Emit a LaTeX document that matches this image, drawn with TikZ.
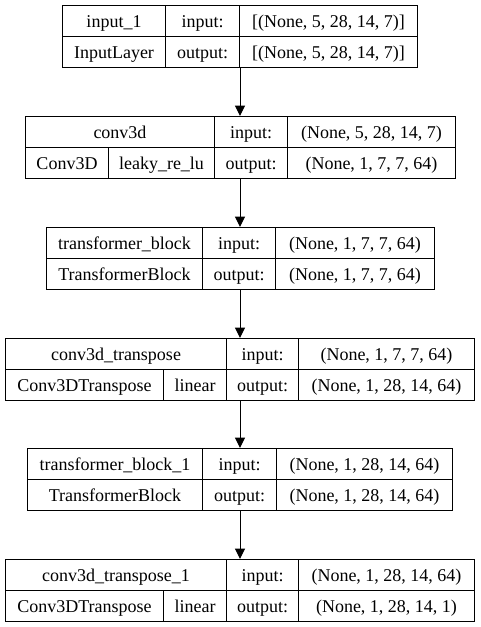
\documentclass[tikz,border=0pt]{standalone}
\usepackage{fontspec}
\setmainfont{Liberation Serif}
\usetikzlibrary{arrows.meta,positioning}

% one table cell: name, left x, right x, top y, text
\newcommand{\kcell}[5]{%
  \node[kcell, minimum width={#3pt-#2pt}] (#1) at (#2,#4) {#5};}

\tikzset{
  kcell/.style={draw=black, line width=1pt, anchor=north west,
    minimum height=31pt, inner sep=0pt, text height=16pt, text depth=4pt,
    font=\fontsize{18}{20}\selectfont},
  link/.style={draw=black, line width=1pt, -{Triangle[length=10.5pt,width=10pt]}}
}

\begin{document}
\begin{tikzpicture}[x=1pt, y=-1pt]
  \useasboundingbox (0,0) rectangle (480,627);

  % input_1
  \kcell{inA}{62}{165}{5}{input\_1}
  \kcell{inB}{165}{239}{5}{input:}
  \kcell{inC}{239}{417}{5}{[(None, 5, 28, 14, 7)]}
  \kcell{inD}{62}{165}{36}{InputLayer}
  \kcell{inE}{165}{239}{36}{output:}
  \kcell{inF}{239}{417}{36}{[(None, 5, 28, 14, 7)]}

  % conv3d
  \kcell{cvA}{25}{214}{116}{conv3d}
  \kcell{cvB}{214}{287}{116}{input:}
  \kcell{cvC}{287}{455}{116}{(None, 5, 28, 14, 7)}
  \kcell{cvD}{25}{108}{147}{Conv3D}
  \kcell{cvE}{108}{214}{147}{leaky\_re\_lu}
  \kcell{cvF}{214}{287}{147}{output:}
  \kcell{cvG}{287}{455}{147}{(None, 1, 7, 7, 64)}

  % transformer_block
  \kcell{tbA}{46}{202}{227}{transformer\_block}
  \kcell{tbB}{202}{275}{227}{input:}
  \kcell{tbC}{275}{434}{227}{(None, 1, 7, 7, 64)}
  \kcell{tbD}{46}{202}{258}{TransformerBlock}
  \kcell{tbE}{202}{275}{258}{output:}
  \kcell{tbF}{275}{434}{258}{(None, 1, 7, 7, 64)}

  % conv3d_transpose
  \kcell{ctA}{5}{226}{338}{conv3d\_transpose}
  \kcell{ctB}{226}{298}{338}{input:}
  \kcell{ctC}{298}{474}{338}{(None, 1, 7, 7, 64)}
  \kcell{ctD}{5}{163}{369}{Conv3DTranspose}
  \kcell{ctE}{163}{226}{369}{linear}
  \kcell{ctF}{226}{298}{369}{output:}
  \kcell{ctG}{298}{474}{369}{(None, 1, 28, 14, 64)}

  % transformer_block_1
  \kcell{tcA}{27}{202}{448}{transformer\_block\_1}
  \kcell{tcB}{202}{276}{448}{input:}
  \kcell{tcC}{276}{452}{448}{(None, 1, 28, 14, 64)}
  \kcell{tcD}{27}{202}{479}{TransformerBlock}
  \kcell{tcE}{202}{276}{479}{output:}
  \kcell{tcF}{276}{452}{479}{(None, 1, 28, 14, 64)}

  % conv3d_transpose_1
  \kcell{cuA}{5}{226}{559}{conv3d\_transpose\_1}
  \kcell{cuB}{226}{298}{559}{input:}
  \kcell{cuC}{298}{474}{559}{(None, 1, 28, 14, 64)}
  \kcell{cuD}{5}{163}{590}{Conv3DTranspose}
  \kcell{cuE}{163}{226}{590}{linear}
  \kcell{cuF}{226}{298}{590}{output:}
  \kcell{cuG}{298}{474}{590}{(None, 1, 28, 14, 1)}

  % arrow ends
  \coordinate (o1) at (240,67);  \coordinate (i2) at (240,116);
  \coordinate (o2) at (240,178); \coordinate (i3) at (240,227);
  \coordinate (o3) at (240,289); \coordinate (i4) at (240,338);
  \coordinate (o4) at (240,400); \coordinate (i5) at (240,448);
  \coordinate (o5) at (240,510); \coordinate (i6) at (240,559);

  \foreach \a/\b in {o1/i2, o2/i3, o3/i4, o4/i5, o5/i6}
    \draw[link] (\a) -- (\b);
\end{tikzpicture}
\end{document}
